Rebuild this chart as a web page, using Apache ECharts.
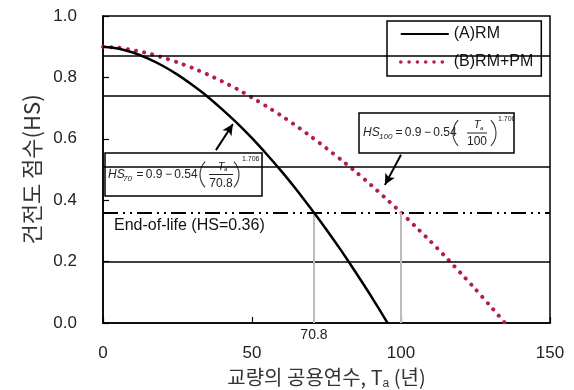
<!DOCTYPE html>
<html>
<head>
<meta charset="utf-8">
<script src="https://cdn.jsdelivr.net/npm/echarts@6/dist/echarts.min.js"></script>
<style>html,body{margin:0;padding:0;background:#fff}#c{width:574px;height:390px}</style>
</head>
<body>
<div id="c"></div>
<script>
// ---- data ----
const tA  = [0,5,10,15,20,25,30,35,40,45,50,55,60,65,70,75,80,85,90,95,95.5];
const hsA = [0.900,0.894,0.881,0.862,0.838,0.809,0.775,0.738,0.696,0.651,0.602,0.549,0.493,0.433,0.370,0.304,0.235,0.162,0.087,0.008,0.000];
const tB  = [0,5,10,15,20,25,30,35,40,45,50,55,60,65,70,75,80,85,90,95,100,105,110,115,120,125,130,134.9];
const hsB = [0.900,0.897,0.889,0.879,0.865,0.849,0.831,0.810,0.787,0.762,0.734,0.705,0.674,0.641,0.606,0.569,0.531,0.491,0.449,0.405,0.360,0.313,0.265,0.215,0.163,0.110,0.055,0.000];
const seriesNames = ['(A)RM','(B)RM+PM'];
const refLevels = [0.87, 0.737, 0.507, 0.205];
const endOfLife = 0.36;
const lifeYears = [70.8, 100];
const arrowA = [[37.9, 0.563], [43.6, 0.648]];
const arrowB = [[100.0, 0.548], [94.6, 0.450]];

const FONT = '"Liberation Sans", Arial, sans-serif';
const KFONT = '"Noto Sans CJK KR", "Liberation Sans", sans-serif';
const RED = '#B71C50';

function eqBox(p) {
  const mid = p.h / 2;
  const fill = '#222';
  const R = 19, A = 0.75;
  const ch = [
    {type:'rect', shape:{x:0,y:0,width:p.w,height:p.h}, style:{fill:'#fff', stroke:'#000', lineWidth:1.5}},
    {type:'text', style:{text:'HS', x:p.hsX, y:mid, font:'italic 12px ' + FONT, fill, textVerticalAlign:'middle'}},
    {type:'text', style:{text:p.sub, x:p.subX, y:mid+4, font:'italic 8px ' + FONT, fill, textVerticalAlign:'middle'}},
    {type:'text', style:{text:'\u2009=\u20090.9\u2009\u2212\u20090.54', x:p.eqX, y:mid, font:'12px ' + FONT, fill, textVerticalAlign:'middle'}},
    {type:'arc', shape:{cx:p.parL+R, cy:mid, r:R, startAngle:Math.PI-A, endAngle:Math.PI+A, clockwise:true}, style:{stroke:'#333', lineWidth:1.1, fill:null}},
    {type:'text', style:{text:'T', x:p.fracC, y:mid-8, font:'italic 11px ' + FONT, fill, textAlign:'center', textVerticalAlign:'middle'}},
    {type:'text', style:{text:'a', x:p.fracC+3, y:mid-5, font:'italic 6px ' + FONT, fill, textVerticalAlign:'middle'}},
    {type:'line', shape:{x1:p.fracC-p.fracW/2, y1:mid, x2:p.fracC+p.fracW/2, y2:mid}, style:{stroke:'#222', lineWidth:1}},
    {type:'text', style:{text:p.den, x:p.fracC, y:mid+9, font:'12px ' + FONT, fill, textAlign:'center', textVerticalAlign:'middle'}},
    {type:'arc', shape:{cx:p.parR-R, cy:mid, r:R, startAngle:-A, endAngle:A, clockwise:true}, style:{stroke:'#333', lineWidth:1.1, fill:null}},
    {type:'text', style:{text:'1.706', x:p.supX, y:6, font:'7px ' + FONT, fill, textVerticalAlign:'middle'}}
  ];
  return {type:'group', x:p.x, y:p.y, z:50, children:ch};
}

const chart = echarts.init(document.getElementById('c'));
const black = '#000';

chart.setOption({
  animation: false,
  backgroundColor: '#fff',
  grid: {left:103, right:24, top:16, bottom:67, outerBoundsMode:'none', containLabel:false,
         show:true, borderColor:black, borderWidth:1.5, backgroundColor:'transparent'},
  legend: {
    data: [
      {name:seriesNames[0], lineStyle:{width:2}},
      {name:seriesNames[1], lineStyle:{width:3.5}}
    ],
    orient:'vertical', left:387, top:21,
    backgroundColor:'#fff', borderColor:black, borderWidth:1.5,
    padding:[5,8,6,12], itemGap:12, itemWidth:48, itemHeight:14,
    itemStyle:{opacity:0},
    textStyle:{fontFamily:FONT, fontSize:16, color:'#111'}
  },
  xAxis: {
    type:'value', min:0, max:150, interval:50,
    name:'교량의 공용연수, T{sub|a} (년)', nameLocation:'middle', nameGap:41,
    nameTextStyle:{fontFamily:KFONT, fontSize:20, color:'#333',
      rich:{sub:{fontFamily:FONT, fontSize:12, color:'#333', padding:[14,0,0,0]}}},
    axisLine:{lineStyle:{color:black, width:1.5}},
    axisTick:{inside:true, length:6, lineStyle:{color:black, width:1.2}},
    axisLabel:{margin:22, fontFamily:FONT, fontSize:17, color:'#222'},
    splitLine:{show:false}
  },
  yAxis: {
    type:'value', min:0, max:1, interval:0.2,
    name:'건전도 점수(HS)', nameLocation:'middle', nameGap:58,
    nameTextStyle:{fontFamily:KFONT, fontSize:22, color:'#333'},
    axisLine:{lineStyle:{color:black, width:1.5}},
    axisTick:{inside:true, length:6, lineStyle:{color:black, width:1.2}},
    axisLabel:{margin:26, fontFamily:FONT, fontSize:17, color:'#222',
      formatter: v => v.toFixed(1)},
    splitLine:{show:false}
  },
  series: [
    {
      name: seriesNames[0], type:'line', z:5,
      data: tA.map((t,i)=>[t, hsA[i]]),
      showSymbol:false, symbol:'none', smooth:0.2,
      lineStyle:{color:black, width:2.5},
      itemStyle:{color:black},
      markLine:{
        silent:true, symbol:'none', animation:false,
        label:{show:false},
        data:[
          ...refLevels.map(v=>({yAxis:v, lineStyle:{color:black, width:1.5, type:'solid'}})),
          {yAxis:endOfLife, lineStyle:{color:black, width:2, type:[15,5,2,5,2,5]}},
          [{coord:[lifeYears[0],0], lineStyle:{color:'#bbb', width:2, type:'solid'},
            label:{show:true, position:'start', formatter:'70.8', distance:5, fontFamily:FONT, fontSize:14, color:'#222'}},
           {coord:[lifeYears[0],endOfLife]}],
          [{coord:[lifeYears[1],0], lineStyle:{color:'#bbb', width:2, type:'solid'}},
           {coord:[lifeYears[1],endOfLife]}],
          [{coord:arrowA[0], symbol:'none', lineStyle:{color:black, width:2, type:'solid'}},
           {coord:arrowA[1], symbol:'arrow', symbolSize:[8,11]}],
          [{coord:arrowB[0], symbol:'none', lineStyle:{color:black, width:2, type:'solid'}},
           {coord:arrowB[1], symbol:'arrow', symbolSize:[8,11]}]
        ]
      }
    },
    {
      name: seriesNames[1], type:'line', z:4,
      data: tB.map((t,i)=>[t, hsB[i]]),
      showSymbol:false, symbol:'none', smooth:0.2,
      lineStyle:{color:RED, width:4, type:[0.1,8.2], cap:'round'},
      itemStyle:{color:RED}
    }
  ],
  graphic: [
    {type:'text', z:40, style:{text:'End-of-life (HS=0.36)', x:114, y:226, font:'16px ' + FONT, fill:'#111', textVerticalAlign:'middle'}},
    eqBox({x:105, y:153, w:157, h:43, sub:'70', den:'70.8', hsX:3, subX:18, eqX:29, parL:95, fracC:116, fracW:24, parR:134, supX:137}),
    eqBox({x:359, y:113, w:155, h:40, sub:'100', den:'100', hsX:4, subX:20, eqX:34, parL:94, fracC:118, fracW:20, parR:137, supX:139})
  ]
});
</script>
</body>
</html>
